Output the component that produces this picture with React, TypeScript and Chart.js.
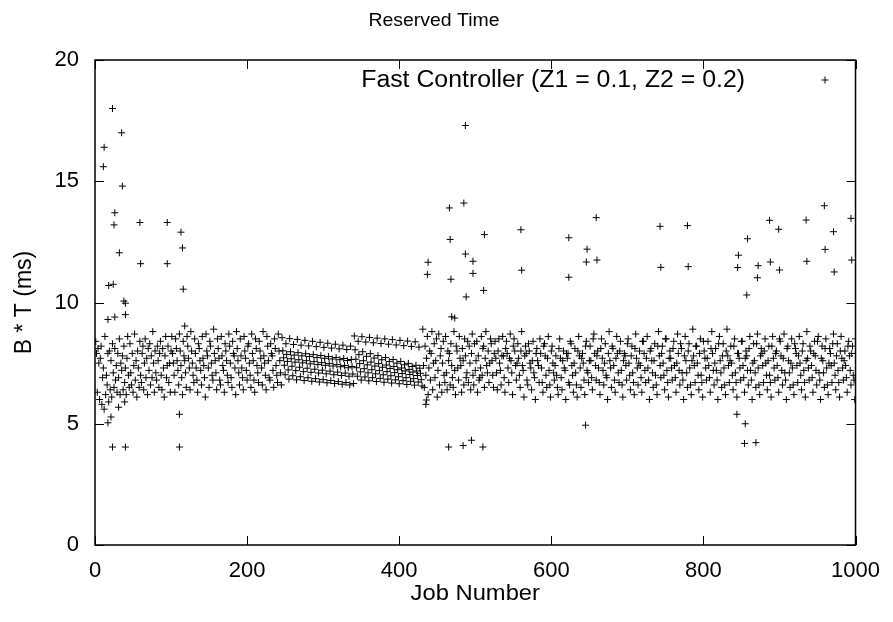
import { useEffect, useRef } from "react";
import { Chart, registerables } from "chart.js";

Chart.register(...registerables);

const chartTitle = "Reserved Time";
const xAxisTitle = "Job Number";
const yAxisTitle = "B * T (ms)";
const seriesLabel = "Fast Controller (Z1 = 0.1, Z2 = 0.2)";

const xTicks = [0, 200, 400, 600, 800, 1000];
const yTicks = [0, 5, 10, 15, 20];

// Reserved time of job n is bandValues[n - 1] (jobs 1..1000)
const bandValues = [
  // jobs 1-100
  8.4, 7.9, 6.3, 8.1, 7.5,
  6.0, 7.7, 8.2, 5.8, 6.9,
  7.3, 5.6, 8.6, 6.2, 7.0,
  6.6, 7.9, 5.9, 8.0, 6.4,
  7.6, 6.1, 8.3, 7.1, 6.5,
  8.1, 6.8, 7.4, 6.3, 7.9,
  6.9, 8.5, 6.2, 7.5, 7.2,
  7.8, 6.4, 8.2, 6.7, 7.3,
  6.2, 7.7, 8.6, 7.0, 6.5,
  8.3, 7.1, 6.6, 7.9, 6.3,
  7.4, 8.7, 6.8, 7.6, 6.1,
  8.0, 7.3, 6.5, 8.4, 7.0,
  6.7, 7.9, 8.2, 6.4, 7.5,
  8.5, 6.9, 7.7, 6.2, 8.1,
  7.2, 8.3, 6.6, 7.8, 6.9,
  8.8, 7.5, 6.3, 8.0, 7.1,
  6.8, 8.2, 7.6, 6.5, 7.9,
  8.4, 7.0, 6.4, 8.1, 7.3,
  6.1, 7.8, 8.6, 6.9, 7.4,
  8.2, 6.7, 7.5, 6.3, 8.0,
  // jobs 101-245
  8.6, 7.9, 7.5, 7.0, 6.3,
  8.5, 8.1, 7.6, 7.2, 6.6,
  8.7, 8.0, 7.4, 6.9, 6.2,
  8.4, 7.8, 7.6, 7.1, 6.5,
  8.6, 8.2, 7.7, 7.3, 6.4,
  8.8, 8.0, 7.5, 7.0, 6.7,
  8.5, 7.9, 7.3, 6.8, 6.3,
  8.3, 8.1, 7.6, 7.2, 6.6,
  8.6, 7.7, 7.4, 6.9, 6.1,
  8.7, 8.0, 7.8, 7.3, 6.5,
  8.4, 8.2, 7.5, 7.0, 6.8,
  8.9, 7.9, 7.6, 7.1, 6.4,
  8.5, 8.1, 7.7, 6.8, 6.6,
  8.6, 7.8, 7.4, 7.2, 6.3,
  8.3, 8.0, 7.6, 7.0, 6.7,
  8.7, 8.2, 7.5, 6.9, 6.5,
  8.4, 7.9, 7.8, 7.3, 6.2,
  8.8, 8.1, 7.6, 7.1, 6.6,
  8.5, 7.8, 7.3, 6.9, 6.4,
  8.6, 8.0, 7.7, 7.2, 6.8,
  8.2, 8.3, 7.5, 7.0, 6.5,
  8.7, 7.9, 7.6, 6.8, 6.3,
  8.5, 8.1, 7.4, 7.1, 6.7,
  8.4, 8.0, 7.7, 7.3, 6.6,
  8.8, 7.8, 7.5, 7.0, 6.4,
  8.6, 8.2, 7.6, 6.9, 6.8,
  8.3, 7.9, 7.8, 7.2, 6.5,
  8.5, 8.1, 7.4, 7.0, 6.7,
  8.7, 8.0, 7.6, 7.1, 6.6,
  // jobs 246-340
  8.55, 8.01, 7.72, 7.41, 7.02,
  8.30, 7.86, 7.57, 7.22, 6.84,
  8.51, 7.97, 7.68, 7.37, 6.98,
  8.27, 7.83, 7.54, 7.19, 6.81,
  8.48, 7.93, 7.64, 7.33, 6.94,
  8.24, 7.80, 7.51, 7.15, 6.78,
  8.44, 7.89, 7.60, 7.29, 6.90,
  8.21, 7.77, 7.47, 7.12, 6.75,
  8.40, 7.85, 7.56, 7.25, 6.86,
  8.18, 7.73, 7.44, 7.09, 6.72,
  8.36, 7.81, 7.52, 7.21, 6.82,
  8.15, 7.70, 7.41, 7.06, 6.69,
  8.32, 7.77, 7.48, 7.17, 6.78,
  8.12, 7.67, 7.38, 7.02, 6.66,
  8.28, 7.73, 7.44, 7.13, 6.74,
  8.09, 7.64, 7.35, 6.99, 6.63,
  8.24, 7.69, 7.40, 7.09, 6.70,
  8.06, 7.61, 7.31, 6.96, 6.60,
  8.20, 7.65, 7.36, 7.05, 6.66,
  // jobs 341-430
  8.62, 8.05, 7.66, 7.31, 6.96,
  8.40, 7.85, 7.48, 7.14, 6.80,
  8.59, 7.97, 7.60, 7.27, 6.93,
  8.37, 7.78, 7.43, 7.10, 6.77,
  8.56, 7.89, 7.54, 7.23, 6.90,
  8.34, 7.71, 7.38, 7.06, 6.74,
  8.53, 7.81, 7.48, 7.19, 6.87,
  8.31, 7.64, 7.33, 7.02, 6.71,
  8.50, 7.73, 7.42, 7.15, 6.84,
  8.28, 7.57, 7.28, 6.98, 6.68,
  8.47, 7.65, 7.36, 7.11, 6.81,
  8.25, 7.50, 7.23, 6.94, 6.65,
  8.44, 7.57, 7.30, 7.07, 6.78,
  8.22, 7.43, 7.18, 6.90, 6.62,
  8.41, 7.49, 7.24, 7.03, 6.75,
  8.19, 7.36, 7.13, 6.86, 6.59,
  8.38, 7.41, 7.18, 6.99, 6.72,
  8.16, 7.29, 7.08, 6.82, 6.56,
  // jobs 431-520
  8.9, 7.4, 6.5, 8.2, 7.0,
  7.7, 8.6, 6.2, 7.3, 8.0,
  6.8, 7.9, 8.8, 6.4, 7.5,
  8.3, 6.9, 7.6, 8.5, 6.1,
  7.2, 8.7, 6.6, 7.8, 8.1,
  6.3, 7.5, 8.4, 7.0, 6.7,
  8.6, 7.1, 6.4, 8.0, 7.6,
  7.9, 6.6, 8.3, 7.4, 6.9,
  6.5, 8.8, 7.2, 6.2, 8.2,
  8.0, 7.3, 6.8, 8.6, 7.7,
  7.4, 6.3, 8.1, 7.6, 6.6,
  8.5, 7.8, 6.9, 7.1, 8.4,
  6.7, 8.2, 7.5, 6.4, 7.9,
  8.7, 7.0, 6.6, 8.3, 7.2,
  7.6, 8.4, 6.3, 7.8, 6.8,
  6.9, 7.3, 8.6, 7.0, 8.1,
  8.2, 6.5, 7.7, 8.8, 7.4,
  7.1, 8.0, 6.7, 7.5, 8.5,
  // jobs 521-1000
  8.3, 7.6, 7.0, 6.5, 7.9,
  8.4, 7.7, 7.1, 6.4, 8.0,
  8.5, 7.5, 7.2, 6.6, 7.8,
  8.6, 7.8, 6.9, 6.3, 8.1,
  8.4, 7.9, 7.3, 6.7, 7.7,
  8.7, 7.6, 7.1, 6.2, 8.2,
  8.5, 8.0, 7.4, 6.8, 7.5,
  8.3, 7.7, 7.0, 6.5, 8.0,
  8.8, 7.4, 7.2, 6.1, 7.8,
  8.2, 7.9, 6.8, 6.6, 8.3,
  8.0, 7.5, 7.3, 6.4, 7.6,
  8.4, 7.1, 6.9, 6.0, 7.9,
  8.1, 7.6, 7.4, 6.7, 8.5,
  7.9, 7.3, 6.7, 6.3, 8.2,
  8.3, 7.8, 7.0, 6.5, 7.7,
  8.6, 7.2, 6.6, 6.1, 8.0,
  8.2, 7.5, 7.1, 6.8, 7.4,
  7.8, 7.0, 6.5, 6.2, 8.1,
  8.5, 7.7, 6.9, 6.4, 7.6,
  8.0, 7.3, 7.2, 6.0, 7.9,
  7.7, 7.9, 6.7, 6.6, 8.4,
  8.3, 7.4, 7.0, 6.3, 7.5,
  8.1, 7.1, 6.6, 6.1, 8.0,
  8.6, 7.8, 7.3, 6.5, 7.7,
  7.9, 7.5, 6.8, 6.2, 8.2,
  8.4, 7.2, 7.1, 6.7, 7.6,
  8.2, 7.6, 6.9, 6.4, 8.5,
  8.7, 7.9, 7.4, 6.8, 7.8,
  8.0, 7.3, 6.7, 6.2, 8.1,
  8.5, 7.7, 7.2, 6.6, 7.5,
  8.3, 7.0, 6.9, 6.0, 7.9,
  8.8, 7.6, 7.3, 6.5, 8.2,
  8.1, 7.4, 6.8, 6.3, 7.7,
  8.6, 7.9, 7.1, 6.7, 8.0,
  8.4, 7.2, 6.6, 6.1, 7.6,
  7.9, 7.8, 7.4, 6.8, 8.3,
  8.5, 7.5, 7.0, 6.4, 7.8,
  8.2, 7.1, 6.7, 6.2, 8.1,
  8.7, 7.7, 7.3, 6.6, 7.5,
  8.0, 7.4, 6.9, 6.3, 8.4,
  8.4, 7.9, 7.2, 6.7, 7.7,
  8.6, 7.3, 6.8, 6.0, 8.0,
  8.1, 7.6, 7.1, 6.5, 7.6,
  8.3, 7.0, 6.6, 6.2, 8.2,
  8.8, 7.8, 7.4, 6.9, 7.9,
  8.2, 7.5, 7.0, 6.4, 8.5,
  8.5, 7.2, 6.7, 6.1, 7.7,
  8.0, 7.7, 7.3, 6.8, 8.1,
  8.4, 7.4, 6.9, 6.3, 7.5,
  8.7, 7.9, 7.2, 6.6, 8.3,
  8.1, 7.1, 6.8, 6.0, 7.8,
  8.6, 7.6, 7.1, 6.5, 8.0,
  8.3, 7.3, 6.6, 6.2, 7.6,
  8.9, 7.8, 7.4, 6.7, 8.2,
  8.2, 7.5, 7.0, 6.4, 7.9,
  8.5, 7.0, 6.7, 6.1, 8.4,
  8.0, 7.7, 7.3, 6.8, 7.7,
  8.4, 7.4, 6.9, 6.3, 8.1,
  8.8, 7.9, 7.2, 6.6, 7.5,
  8.1, 7.2, 6.8, 6.0, 8.3,
  8.6, 7.6, 7.1, 6.5, 7.8,
  8.3, 7.3, 6.6, 6.2, 8.0,
  8.9, 7.8, 7.4, 6.7, 7.6,
  8.2, 7.5, 7.0, 6.4, 8.2,
  8.5, 7.1, 6.7, 6.1, 7.9,
  7.9, 7.7, 7.3, 6.8, 8.4,
  8.4, 7.4, 6.9, 6.3, 7.7,
  8.0, 7.8, 7.2, 6.6, 8.1,
  8.6, 7.2, 6.8, 6.0, 7.5,
  8.3, 7.6, 7.1, 6.5, 8.3,
  8.7, 7.3, 6.6, 6.2, 7.8,
  8.1, 7.9, 7.4, 6.7, 8.0,
  8.5, 7.5, 7.0, 6.4, 7.6,
  8.2, 7.0, 6.7, 6.1, 8.2,
  8.6, 7.7, 7.3, 6.8, 7.9,
  8.0, 7.4, 6.9, 6.3, 8.5,
  8.4, 7.8, 7.2, 6.6, 7.7,
  8.7, 7.1, 6.8, 6.0, 8.1,
  8.2, 7.6, 7.1, 6.5, 7.5,
  8.5, 7.3, 6.6, 6.2, 8.3,
  8.1, 7.9, 7.4, 6.7, 7.8,
  8.6, 7.5, 7.0, 6.4, 8.0,
  8.3, 7.2, 6.7, 6.1, 7.6,
  8.8, 7.7, 7.3, 6.8, 8.2,
  8.0, 7.4, 6.9, 6.3, 7.9,
  8.4, 7.8, 7.2, 6.6, 8.4,
  8.6, 7.1, 6.8, 6.0, 7.7,
  8.2, 7.6, 7.1, 6.5, 8.1,
  8.5, 7.3, 6.6, 6.2, 7.5,
  8.1, 7.9, 7.4, 6.7, 8.3,
  8.7, 7.5, 7.0, 6.4, 7.8,
  8.3, 7.2, 6.7, 6.1, 8.0,
  8.6, 7.7, 7.3, 6.8, 7.6,
  8.0, 7.4, 6.9, 6.3, 8.2,
  8.4, 7.8, 7.2, 6.6, 7.9,
  8.2, 7.0, 6.8, 6.0, 8.5,
];

// Jobs whose reserved time falls outside the main band
const spikeJobs = [
  11, 12, 23, 35, 36, 26, 25, 59, 95, 113, 32, 115, 60, 95, 116, 38, 40, 17, 26,
  40, 21, 17, 23, 40, 111, 111, 31, 39, 18, 24, 118,
  487, 466, 485, 560, 512, 623, 659, 647, 646, 660, 623, 561, 467, 487, 497, 497,
  438, 437, 468, 511, 488, 473, 469, 436, 435, 465, 484, 495, 510, 645,
  844, 855, 854, 869, 743, 779, 744, 780, 858, 846, 845, 872, 871, 857, 887, 899,
  888, 900, 935, 936, 959, 971, 960, 972, 994, 995,
];
const spikeValues = [
  15.6, 16.4, 18.0, 17.0, 14.8, 13.7, 13.2, 13.3, 13.3, 12.9, 12.05, 12.25, 11.6,
  11.6, 10.55, 10.06, 9.97, 9.3, 9.4, 9.5, 5.28, 5.04, 4.04, 4.04, 5.39, 4.04,
  5.68, 5.9, 10.7, 10.75, 9.03,
  17.3, 13.9, 14.1, 13.0, 12.8, 12.67, 13.5, 12.2, 11.67, 11.75, 11.04, 11.33,
  12.6, 12.0, 11.7, 11.2, 11.66, 11.16, 10.96, 10.5, 10.23, 9.36, 9.41, 5.98, 5.8,
  4.04, 4.1, 4.32, 4.04, 4.94,
  5.39, 5.0, 4.19, 4.22, 13.14, 13.17, 11.45, 11.48, 12.63, 11.95, 11.44, 11.52,
  11.02, 10.31, 13.39, 13.02, 11.67, 11.34, 13.4, 11.7, 13.99, 12.92, 12.19,
  11.26, 13.47, 11.75,
];

const FONT = '"Liberation Sans", Arial, Helvetica, sans-serif';
const STRETCH = 1.08;

function wideText(ctx: CanvasRenderingContext2D, text: string, x: number, y: number, size: number, align: CanvasTextAlign) {
  ctx.save();
  ctx.font = `${size}px ${FONT}`;
  ctx.textAlign = align;
  ctx.textBaseline = "middle";
  ctx.translate(x, y);
  ctx.scale(STRETCH, 1);
  ctx.fillText(text, 0, 0);
  ctx.restore();
}

const decorPlugin = {
  id: "decor",
  afterDraw(chart: any) {
    const { ctx, chartArea: a, scales } = chart;
    ctx.save();
    ctx.strokeStyle = "#000";
    ctx.lineWidth = 1.5;
    ctx.strokeRect(a.left, a.top, a.right - a.left, a.bottom - a.top);
    ctx.lineWidth = 1;
    const tl = 9;
    ctx.beginPath();
    for (const v of xTicks) {
      const px = Math.round(scales.x.getPixelForValue(v)) + 0.5;
      ctx.moveTo(px, a.bottom);
      ctx.lineTo(px, a.bottom - tl);
      ctx.moveTo(px, a.top);
      ctx.lineTo(px, a.top + tl);
    }
    for (const v of yTicks) {
      const py = Math.round(scales.y.getPixelForValue(v)) + 0.5;
      ctx.moveTo(a.left, py);
      ctx.lineTo(a.left + tl, py);
      ctx.moveTo(a.right, py);
      ctx.lineTo(a.right - tl, py);
    }
    ctx.stroke();

    ctx.fillStyle = "#000";
    const cx = (a.left + a.right) / 2;
    wideText(ctx, chartTitle, 434, 21, 18, "center");
    wideText(ctx, xAxisTitle, cx, 594, 22, "center");

    ctx.save();
    ctx.font = `23px ${FONT}`;
    ctx.textAlign = "center";
    ctx.textBaseline = "middle";
    ctx.translate(25, (a.top + a.bottom) / 2);
    ctx.rotate(-Math.PI / 2);
    ctx.fillText(yAxisTitle, 0, 0);
    ctx.restore();

    // key
    wideText(ctx, seriesLabel, 745, 81, 23, "right");
    ctx.beginPath();
    const kx = 825, ky = 80, r = 3.5;
    ctx.moveTo(kx - r, ky);
    ctx.lineTo(kx + r, ky);
    ctx.moveTo(kx, ky - r);
    ctx.lineTo(kx, ky + r);
    ctx.stroke();
    ctx.restore();
  },
};

export default function App() {
  const canvasRef = useRef<HTMLCanvasElement | null>(null);

  useEffect(() => {
    const canvas = canvasRef.current;
    if (!canvas) return;
    const points = bandValues.map((v, i) => ({ x: i + 1, y: v }));
    spikeJobs.forEach((j, i) => points.push({ x: j, y: spikeValues[i] }));

    const chart = new Chart(canvas, {
      type: "scatter",
      data: {
        datasets: [
          {
            label: seriesLabel,
            data: points,
            pointStyle: "cross",
            pointRadius: 3.5,
            pointBorderWidth: 1,
            borderColor: "#000",
            backgroundColor: "#000",
            borderWidth: 1,
          },
        ],
      },
      options: {
        responsive: false,
        animation: false,
        events: [],
        layout: { padding: { top: 60, right: 32, bottom: 0, left: 0 } },
        plugins: {
          legend: { display: false },
          tooltip: { enabled: false },
          title: { display: false },
        },
        scales: {
          x: {
            type: "linear",
            min: 0,
            max: 1000,
            ticks: {
              stepSize: 200,
              color: "#000",
              font: { family: FONT, size: 22 },
              padding: 13,
              maxRotation: 0,
              callback: (v: any) => String(v),
            },
            grid: { display: false, drawTicks: false },
            border: { display: false },
            afterFit: (s: any) => {
              s.height = 77;
            },
          },
          y: {
            type: "linear",
            min: 0,
            max: 20,
            ticks: {
              stepSize: 5,
              color: "#000",
              font: { family: FONT, size: 22 },
              padding: 16,
              callback: (v: any) => String(v),
            },
            grid: { display: false, drawTicks: false },
            border: { display: false },
            afterFit: (s: any) => {
              s.width = 95;
            },
          },
        },
      },
      plugins: [decorPlugin],
    });
    return () => chart.destroy();
  }, []);

  return (
    <div style={{ position: "fixed", left: 0, top: 0, width: 893, height: 622, background: "#fff" }}>
      <canvas ref={canvasRef} width={893} height={622} />
    </div>
  );
}
